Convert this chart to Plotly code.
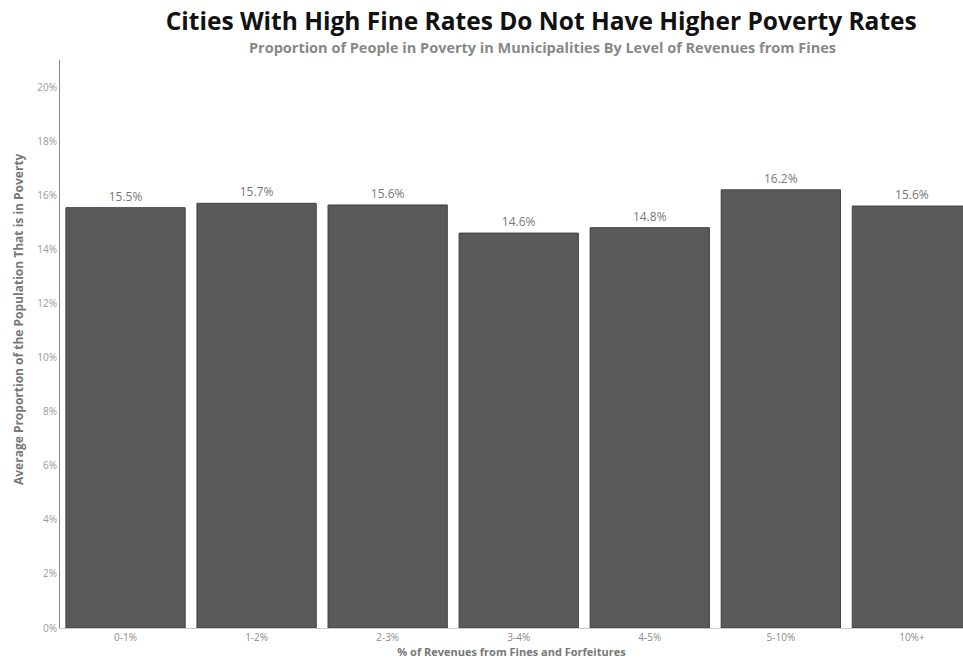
import plotly.graph_objects as go

categories = ["0-1%", "1-2%", "2-3%", "3-4%", "4-5%", "5-10%", "10%+"]
poverty = [0.1554, 0.157, 0.1564, 0.146, 0.148, 0.162, 0.156]

title_text = "Cities With High Fine Rates Do Not Have Higher Poverty Rates"
subtitle_text = "Proportion of People in Poverty in Municipalities By Level of Revenues from Fines"
x_title = "% of Revenues from Fines and Forfeitures"
y_title = "Average Proportion of the Population That is in Poverty"

FONT = "'Open Sans', Lato, sans-serif"

fig = go.Figure(
    go.Bar(
        x=categories,
        y=poverty,
        marker=dict(color="#5a5a5a", line=dict(color="#3f3f3f", width=1)),
        texttemplate="%{y:.1%}",
        textposition="outside",
        textfont=dict(size=12, color="#777777", family=FONT),
        cliponaxis=False,
    )
)

fig.update_layout(
    width=963,
    height=667,
    margin=dict(l=60, r=0, t=60, b=39),
    paper_bgcolor="white",
    plot_bgcolor="white",
    bargap=0.09,
    showlegend=False,
    font=dict(family=FONT, color="#888888"),
    title=dict(
        text="<b>" + title_text + "</b>",
        x=0.562,
        xanchor="center",
        xref="container",
        y=1 - 21 / 667,
        yref="container",
        yanchor="middle",
        font=dict(size=24.5, color="#111111", family=FONT),
    ),
    annotations=[
        dict(
            text="<b>" + subtitle_text + "</b>",
            xref="paper",
            yref="paper",
            x=0.534,
            y=1 + 1.5 / 568,
            xanchor="center",
            yanchor="bottom",
            showarrow=False,
            font=dict(size=14.5, color="#888888", family=FONT),
        ),
        dict(
            text="<b>" + y_title + "</b>",
            xref="paper",
            yref="paper",
            x=-42 / 903,
            y=(628 - 319) / 568,
            xanchor="center",
            yanchor="middle",
            textangle=-90,
            showarrow=False,
            font=dict(size=12, color="#777777", family=FONT),
        ),
    ],
    xaxis=dict(
        range=[-0.5, 6.39],
        showgrid=False,
        showline=True,
        linecolor="#cccccc",
        linewidth=1,
        ticks="",
        tickfont=dict(size=10, color="#8a8a8a"),
        title=dict(
            text="<b>" + x_title + "</b>",
            font=dict(size=11, color="#777777"),
            standoff=3,
        ),
    ),
    yaxis=dict(
        range=[0, 0.21],
        dtick=0.02,
        tickformat=".0%",
        showgrid=False,
        zeroline=False,
        showline=True,
        linecolor="#888888",
        linewidth=1,
        ticks="",
        tickfont=dict(size=10, color="#999999"),
    ),
)

fig.write_html("out.html")
